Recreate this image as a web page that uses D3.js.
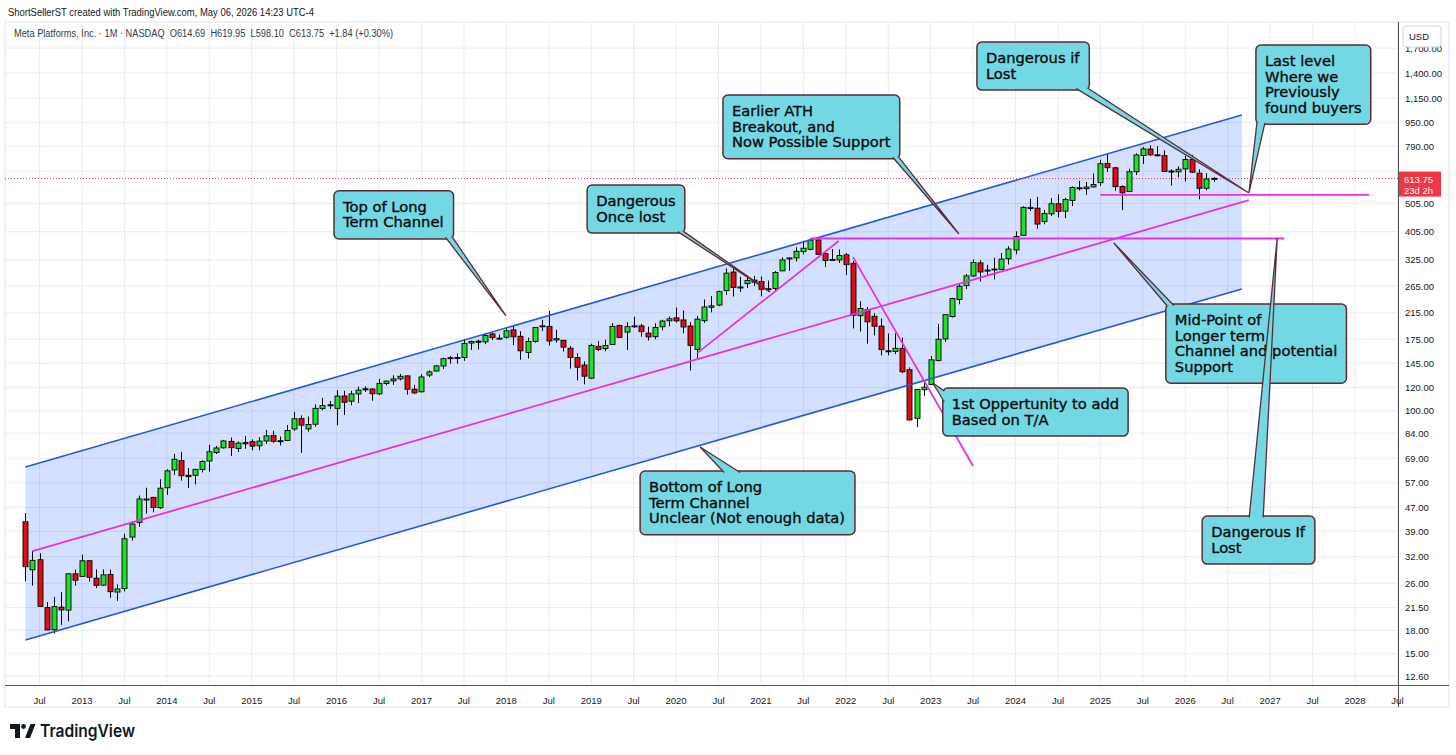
<!DOCTYPE html>
<html>
<head>
<meta charset="utf-8">
<title>Meta Platforms 1M</title>
<script src="https://d3js.org/d3.v7.min.js"></script>
<style>
  body { margin: 0; background: #fff; }
  svg { display: block; }
</style>
</head>
<body>
<svg id="chart"></svg>
<script>
// monthly candles, first bar is May 2012 (month index counted from Jan 2013)
const firstMonth = -8;

const opens = [
  42.05, 28.89, 31.25, 21.50, 18.08, 21.57, 21.08, 28.00,
  27.44, 31.01, 27.05, 25.63, 27.85, 24.27, 24.97, 37.30, 41.84, 49.97, 50.85, 46.90,
  54.83, 63.03, 67.76, 60.46, 60.43, 63.23, 67.58, 72.22, 74.93, 78.78, 74.56, 77.26,
  78.58, 76.11, 79.00, 82.50, 79.00, 79.30, 86.77, 94.11, 86.85, 90.05, 101.75, 104.83,
  101.95, 112.27, 107.83, 114.12, 117.83, 118.50, 114.20, 123.85, 126.38, 128.38, 131.41, 118.38,
  116.03, 132.25, 136.47, 141.93, 150.50, 151.75, 151.72, 169.82, 172.40, 171.39, 182.36, 176.03,
  177.68, 188.22, 179.01, 157.82, 172.00, 193.07, 193.37, 173.93, 173.50, 163.03, 151.52, 143.00,
  128.99, 165.60, 162.60, 167.83, 194.78, 185.01, 194.03, 194.19, 183.50, 178.49, 192.85, 202.13,
  206.75, 203.44, 194.03, 161.62, 202.27, 224.59, 228.50, 255.82, 295.72, 261.00, 270.23, 277.63,
  274.78, 259.52, 260.00, 298.40, 330.12, 330.15, 346.82, 353.20, 379.95, 341.61, 326.04, 325.00,
  338.30, 316.63, 210.26, 220.25, 209.30, 193.80, 159.83, 159.11, 162.82, 137.92, 94.33, 117.92,
  122.82, 148.03, 175.35, 208.84, 238.62, 265.90, 286.70, 317.54, 299.37, 302.74, 301.85, 328.00,
  351.32, 393.94, 490.22, 487.20, 439.12, 465.85, 504.19, 475.83, 517.47, 571.00, 567.26, 575.00,
  594.28, 690.69, 667.60, 576.63, 554.55, 647.43, 734.50, 773.00, 739.00, 734.00, 651.00, 647.00,
  662.00, 712.00, 640.00, 569.00, 614.69
];
const highs = [
  45.00, 33.45, 32.88, 22.45, 23.37, 24.25, 28.00, 28.89,
  32.51, 31.02, 28.99, 28.99, 28.94, 25.77, 38.31, 42.26, 51.60, 54.83, 51.12, 58.58,
  63.37, 71.44, 72.59, 64.00, 63.59, 68.00, 76.74, 75.99, 79.70, 81.16, 78.75, 82.17,
  80.03, 81.37, 86.07, 85.59, 81.81, 89.40, 99.24, 96.49, 95.70, 105.12, 110.65, 107.92,
  117.59, 117.00, 116.99, 120.79, 121.08, 119.44, 128.33, 126.73, 131.98, 133.50, 131.94, 122.50,
  133.14, 137.18, 142.95, 151.49, 153.60, 156.50, 175.49, 173.05, 174.00, 182.90, 184.25, 181.48,
  190.66, 195.32, 186.10, 177.10, 192.72, 203.55, 218.62, 188.30, 173.89, 165.88, 156.77, 147.19,
  168.90, 172.47, 174.30, 198.48, 196.18, 199.88, 208.66, 197.29, 193.06, 198.09, 203.80, 208.93,
  224.20, 218.77, 199.89, 209.69, 238.67, 245.19, 255.85, 303.91, 304.67, 285.00, 287.51, 286.88,
  285.80, 276.60, 298.00, 331.81, 331.29, 358.79, 377.55, 384.33, 382.20, 345.25, 353.83, 352.71,
  343.09, 322.00, 235.50, 225.00, 214.32, 205.82, 183.00, 183.10, 177.18, 140.35, 118.79, 124.67,
  153.40, 197.16, 212.17, 241.69, 268.65, 291.30, 326.20, 324.14, 312.87, 330.54, 342.92, 361.90,
  406.36, 494.36, 523.57, 531.49, 479.85, 527.00, 542.81, 528.00, 577.70, 602.95, 597.50, 638.40,
  711.33, 740.91, 672.20, 582.45, 662.60, 747.90, 784.75, 796.25, 790.00, 765.00, 660.00, 675.00,
  733.00, 738.00, 660.00, 640.00, 619.95
];
const lows = [
  26.44, 25.52, 21.61, 18.03, 17.55, 18.80, 19.32, 25.52,
  27.42, 26.34, 25.05, 25.52, 23.21, 22.67, 24.40, 36.31, 40.36, 44.82, 45.26, 46.47,
  51.85, 60.70, 57.98, 54.66, 56.26, 61.79, 62.21, 71.35, 74.45, 70.32, 72.51, 74.40,
  73.45, 73.45, 77.26, 77.94, 76.28, 79.11, 85.54, 72.00, 85.00, 88.36, 100.47, 101.46,
  89.37, 96.82, 104.40, 106.31, 115.88, 108.23, 112.97, 122.07, 122.51, 126.75, 113.55, 114.00,
  115.51, 130.30, 136.08, 138.81, 144.56, 144.56, 147.80, 160.90, 161.56, 168.29, 174.00, 174.55,
  175.80, 167.18, 149.02, 150.51, 170.23, 186.43, 166.56, 170.27, 158.87, 139.03, 126.85, 123.02,
  128.56, 159.59, 159.28, 167.28, 177.16, 160.84, 191.28, 178.37, 173.22, 175.01, 187.61, 193.55,
  199.26, 183.31, 137.10, 150.83, 198.76, 215.85, 226.54, 247.25, 244.13, 253.00, 261.00, 265.20,
  244.61, 253.50, 253.50, 298.06, 298.50, 321.29, 339.00, 350.00, 339.00, 308.11, 324.00, 317.25,
  289.03, 190.22, 185.82, 169.00, 180.23, 154.25, 154.25, 155.77, 134.12, 92.60, 88.09, 112.46,
  122.28, 147.06, 171.42, 207.13, 229.85, 258.88, 284.85, 274.38, 286.79, 279.40, 301.85, 313.66,
  340.01, 393.05, 476.00, 414.50, 429.40, 458.23, 453.41, 450.80, 495.00, 559.00, 540.62, 572.70,
  579.51, 646.20, 557.40, 479.80, 551.81, 630.70, 688.00, 732.00, 730.00, 646.00, 581.00, 620.00,
  600.00, 640.00, 522.00, 560.00, 598.10
];
const closes = [
  29.60, 31.10, 21.71, 18.06, 21.66, 21.11, 28.00, 26.62,
  30.98, 27.25, 25.58, 27.77, 24.35, 24.88, 36.80, 41.29, 50.23, 50.21, 47.01, 54.65,
  62.57, 68.46, 60.24, 59.78, 63.30, 67.29, 72.65, 74.82, 79.04, 74.99, 77.70, 78.02,
  75.91, 78.97, 82.22, 78.77, 79.19, 85.77, 94.01, 89.43, 89.90, 101.97, 104.24, 104.66,
  112.21, 106.92, 114.10, 117.58, 118.81, 114.28, 123.94, 126.12, 128.27, 130.99, 118.42, 115.05,
  130.32, 135.54, 142.05, 150.25, 151.46, 150.98, 169.25, 171.97, 170.87, 180.06, 177.18, 176.46,
  186.89, 178.32, 159.79, 172.00, 191.78, 194.32, 172.58, 175.73, 164.46, 151.79, 140.61, 131.09,
  166.69, 161.45, 166.69, 193.40, 177.47, 193.00, 194.23, 185.67, 178.08, 191.65, 201.64, 205.25,
  201.91, 192.47, 166.80, 204.71, 225.09, 227.07, 253.67, 293.20, 261.90, 263.11, 276.97, 273.16,
  258.33, 257.62, 294.53, 325.08, 328.73, 347.71, 356.30, 379.38, 339.39, 323.57, 324.46, 336.35,
  313.26, 211.03, 222.36, 200.47, 193.64, 161.25, 159.10, 162.93, 135.68, 93.16, 118.10, 120.34,
  148.97, 174.94, 211.94, 240.32, 264.72, 286.98, 318.60, 295.89, 300.21, 301.27, 327.15, 353.96,
  390.14, 490.13, 485.58, 430.17, 466.83, 504.22, 474.83, 521.31, 572.44, 567.58, 574.32, 585.51,
  689.18, 668.20, 576.36, 549.00, 647.49, 738.09, 773.44, 738.70, 734.38, 648.35, 647.95, 660.00,
  712.00, 645.00, 569.00, 611.91, 613.75
];

const priceTicks = [1700, 1400, 1150, 950, 790, 650, 505, 405, 325, 265, 215, 175, 145, 120, 100, 84, 69, 57, 47, 39, 32, 26, 21.5, 18, 15, 12.6];
const lastPrice = 613.75;

// drawn lines: [monthIndex, price] end points
const channelTop = [[-8, 64.5], [164, 1009]];
const channelBottom = [[-8, 16.7], [164, 259]];
const midLine = [[-7, 33.4], [165, 519]];
const athLine = [[103, 384.3], [170, 384.3]];
const supportLine = [[144, 540], [182, 540]];
const riseLine = [[87, 157], [107, 377]];
const dropLine = [[109, 333], [126, 65]];

// callouts: tip in [monthIndex, price], box offset from the tip in px
const callouts = [
  {lines: ["Top of Long", "Term Channel"], tip: [59.95, 210], off: [-172, -125], edge: "bottom", base: [-8, -1]},
  {lines: ["Dangerous", "Once lost"], tip: [97.3, 253], off: [-183, -107], edge: "bottom", base: [-7, -1]},
  {lines: ["Earlier ATH", "Breakout, and", "Now Possible Support"], tip: [124, 398], off: [-236, -139], edge: "bottom", base: [-7, -1]},
  {lines: ["Bottom of Long", "Term Channel", "Unclear (Not enough data)"], tip: [87.4, 75.4], off: [-60, 24], edge: "top", base: [84, 100]},
  {lines: ["1st Oppertunity to add", "Based on T/A"], tip: [120.3, 124.3], off: [10, 5], edge: "left", base: [3, 14]},
  {lines: ["Mid-Point of", "Longer term", "Channel and potential", "Support"], tip: [145.9, 371], off: [52, 61], edge: "top", base: [1, 8]},
  {lines: ["Dangerous If", "Lost"], tip: [169, 385.9], off: [-75, 278], edge: "top", base: [47, 61]},
  {lines: ["Dangerous if", "Lost"], tip: [165, 548.4], off: [-272, -151], edge: "bottom", base: [-13, -1]},
  {lines: ["Last level", "Where we", "Previously", "found buyers"], tip: [165, 548.4], off: [7, -148], edge: "bottom", base: [1, 9]}
];

const width = 1456, height = 755;
const plot = {left: 5, right: 1398, top: 22, bottom: 685};
const axisFont = "'Liberation Sans', Arial, sans-serif";
const gridColor = "#e6ebf3";
const up = "#1fe11f", down = "#e20d0d";
const magenta = "#e233e8", blue = "#2357e0";

const svg = d3.select("#chart").attr("width", width).attr("height", height);

const x = d3.scaleLinear().domain([0, 180]).range([82, 1355]);
const y = d3.scaleLog().domain([12.6, 1400]).range([676, 73]);

const candles = closes.map((c, i) => ({m: firstMonth + i, o: opens[i], h: highs[i], l: lows[i], c: c}));
const timeTicks = d3.range(-6, 187, 6);
const ly = y(lastPrice);

// header
svg.append("text").attr("x", 8).attr("y", 16)
  .attr("font-family", axisFont).attr("font-size", 10.5).attr("fill", "#131722")
  .attr("textLength", 306).attr("lengthAdjust", "spacingAndGlyphs")
  .text("ShortSellerST created with TradingView.com, May 06, 2026 14:23 UTC-4");

// frame
svg.append("rect").attr("x", 5).attr("y", 22).attr("width", 1444).attr("height", 685)
  .attr("fill", "#fff").attr("stroke", "#e0e3eb");

// grid
svg.append("g").selectAll("line").data(timeTicks).join("line")
  .attr("x1", d => x(d)).attr("x2", d => x(d))
  .attr("y1", plot.top).attr("y2", plot.bottom)
  .attr("stroke", gridColor);
svg.append("g").selectAll("line").data(priceTicks).join("line")
  .attr("x1", plot.left).attr("x2", plot.right)
  .attr("y1", d => y(d)).attr("y2", d => y(d))
  .attr("stroke", gridColor);

svg.append("clipPath").attr("id", "clip").append("rect")
  .attr("x", plot.left).attr("y", plot.top)
  .attr("width", plot.right - plot.left).attr("height", plot.bottom - plot.top);
const area = svg.append("g").attr("clip-path", "url(#clip)");

const pt = d => [x(d[0]), y(d[1])];
const line = d3.line().x(d => x(d[0])).y(d => y(d[1]));

// channel fill
area.append("path")
  .attr("d", "M" + [pt(channelTop[0]), pt(channelTop[1]), pt(channelBottom[1]), pt(channelBottom[0])].join("L") + "Z")
  .attr("fill", "rgba(41, 98, 255, 0.2)");

// last price line
area.append("line").attr("x1", plot.left).attr("x2", plot.right)
  .attr("y1", ly).attr("y2", ly)
  .attr("stroke", "#f23645").attr("stroke-dasharray", "1,2");

// candles
const cw = 5;
const cg = area.append("g").selectAll("g").data(candles).join("g");
cg.append("line")
  .attr("x1", d => Math.round(x(d.m)) + 0.5).attr("x2", d => Math.round(x(d.m)) + 0.5)
  .attr("y1", d => y(d.h)).attr("y2", d => y(d.l))
  .attr("stroke", "#000").attr("stroke-width", 1);
cg.append("rect")
  .attr("x", d => Math.round(x(d.m)) + 0.5 - cw / 2)
  .attr("y", d => y(Math.max(d.o, d.c)))
  .attr("width", cw)
  .attr("height", d => Math.max(1, Math.abs(y(d.o) - y(d.c))))
  .attr("fill", d => d.c >= d.o ? up : down)
  .attr("stroke", "#000").attr("stroke-width", 0.9);

// trend lines
[channelTop, channelBottom].forEach(l => area.append("path").attr("d", line(l))
  .attr("stroke", blue).attr("stroke-width", 1.6).attr("fill", "none"));
[midLine, athLine, supportLine, riseLine, dropLine].forEach(l => area.append("path").attr("d", line(l))
  .attr("stroke", magenta).attr("stroke-width", 1.8).attr("fill", "none"));

// axes
svg.append("line").attr("x1", 5).attr("x2", 1449).attr("y1", plot.bottom + 0.5).attr("y2", plot.bottom + 0.5)
  .attr("stroke", "#50535e");
svg.append("line").attr("x1", plot.right + 0.5).attr("x2", plot.right + 0.5).attr("y1", 22).attr("y2", 707)
  .attr("stroke", "#50535e");

svg.append("g").selectAll("text").data(timeTicks).join("text")
  .attr("x", d => x(d)).attr("y", 704)
  .attr("text-anchor", "middle")
  .attr("font-family", axisFont).attr("font-size", 9.5).attr("fill", "#131722")
  .text(d => ((d % 12) + 12) % 12 === 0 ? 2013 + d / 12 : "Jul");

// price labels; the one under the last-price tag stays hidden like in the app
const fmt = d3.format(",.2f");
svg.append("g").selectAll("text").data(priceTicks.filter(d => y(d) < ly - 12 || y(d) > ly + 22)).join("text")
  .attr("x", 1405).attr("y", d => y(d) + 3.5)
  .attr("font-family", axisFont).attr("font-size", 9.5).attr("fill", "#131722")
  .text(d => fmt(d));

// USD box
svg.append("rect").attr("x", 1403).attr("y", 26).attr("width", 38).attr("height", 21).attr("rx", 3)
  .attr("fill", "#fff").attr("stroke", "#d1d4dc");
svg.append("text").attr("x", 1409).attr("y", 40)
  .attr("font-family", axisFont).attr("font-size", 9.5).attr("fill", "#131722").text("USD");

// last price label
svg.append("rect").attr("x", plot.right + 1).attr("y", ly - 7).attr("width", 42).attr("height", 25)
  .attr("fill", "#f23645");
svg.append("text").attr("x", 1404).attr("y", ly + 4)
  .attr("font-family", axisFont).attr("font-size", 9.5).attr("fill", "#fff").text(fmt(lastPrice));
svg.append("text").attr("x", 1404).attr("y", ly + 15)
  .attr("font-family", axisFont).attr("font-size", 9.5).attr("fill", "#fff").text("23d 2h");

// legend
svg.append("text").attr("x", 14).attr("y", 37)
  .attr("font-family", axisFont).attr("font-size", 10).attr("fill", "#363a45")
  .attr("textLength", 379).attr("lengthAdjust", "spacingAndGlyphs")
  .attr("xml:space", "preserve")
  .text("Meta Platforms, Inc. · 1M · NASDAQ  O614.69  H619.95  L598.10  C613.75  +1.84 (+0.30%)");

// callouts
const calloutFill = "#74d7e4", calloutStroke = "#5b2c34";
const lh = 15.6;
callouts.forEach(c => {
  const [tx, ty] = pt(c.tip);
  const bx = tx + c.off[0], by = ty + c.off[1];
  const g = svg.append("g");
  const rect = g.append("rect");
  const wedge = g.append("path");
  const sides = g.append("path");
  const text = g.append("text")
    .attr("font-family", "'DejaVu Sans', Verdana, sans-serif")
    .attr("font-size", 14.7).attr("fill", "#0b0b0b")
    .attr("stroke", "#0b0b0b").attr("stroke-width", 0.35);
  c.lines.forEach((s, i) => text.append("tspan").attr("x", bx + 9).attr("y", by + 21 + i * lh).text(s));
  const w = text.node().getBBox().width + 18;
  const h = 32.5 + (c.lines.length - 1) * lh;
  rect.attr("x", bx).attr("y", by).attr("width", w).attr("height", h).attr("rx", 5)
    .attr("fill", calloutFill).attr("stroke", calloutStroke).attr("stroke-width", 1.5);
  const at = v => v < 0 ? w + v : v;
  let p1, p2;
  if (c.edge === "bottom") { p1 = [bx + at(c.base[0]), by + h - 1.5]; p2 = [bx + at(c.base[1]), by + h - 1.5]; }
  else if (c.edge === "top") { p1 = [bx + at(c.base[0]), by + 1.5]; p2 = [bx + at(c.base[1]), by + 1.5]; }
  else { p1 = [bx + 1.5, by + c.base[0]]; p2 = [bx + 1.5, by + c.base[1]]; }
  wedge.attr("d", `M${p1}L${tx},${ty}L${p2}Z`).attr("fill", calloutFill);
  sides.attr("d", `M${p1}L${tx},${ty}L${p2}`).attr("fill", "none")
    .attr("stroke", calloutStroke).attr("stroke-width", 1.3).attr("stroke-linejoin", "miter");
});

// logo
const logo = svg.append("g").attr("fill", "#131722");
logo.append("path").attr("d", "M10,724h10v14h-5v-9h-5z");
logo.append("circle").attr("cx", 23.5).attr("cy", 726.5).attr("r", 2.4);
logo.append("path").attr("d", "M25,738l5.5,-14h5l-5.5,14z");
logo.append("text").attr("x", 40).attr("y", 737)
  .attr("font-family", "Inter, Roboto, sans-serif").attr("font-weight", 600).attr("font-size", 17)
  .attr("textLength", 95).attr("lengthAdjust", "spacingAndGlyphs")
  .text("TradingView");
</script>
</body>
</html>
